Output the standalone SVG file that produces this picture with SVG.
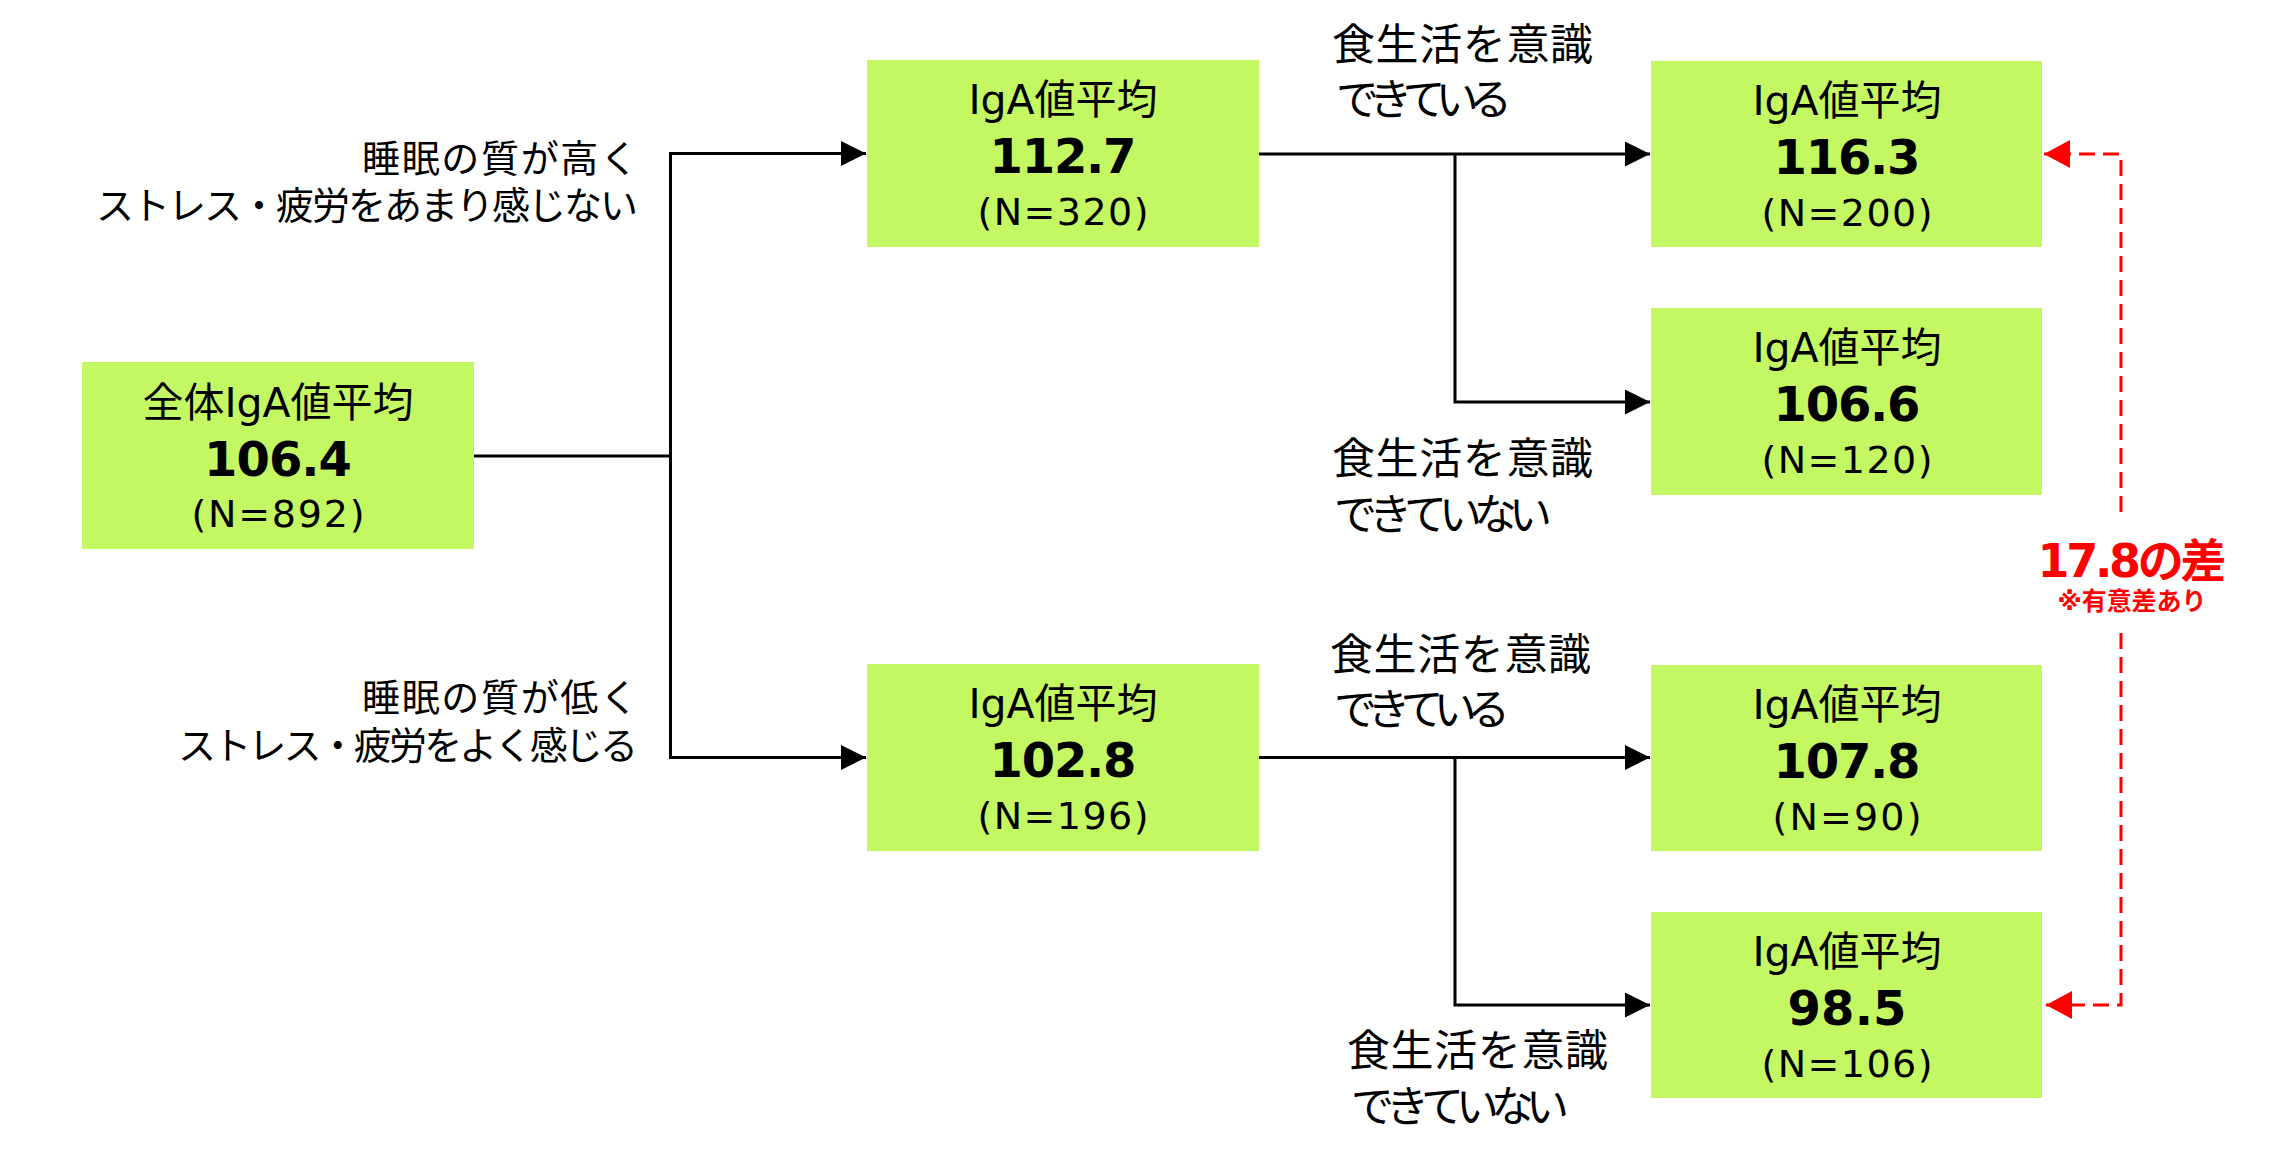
<svg xmlns="http://www.w3.org/2000/svg" width="2271" height="1159" viewBox="0 0 2271 1159">
<style>
.box{fill:#C4F862;}
.lbl{font-family:"DejaVu Sans","Noto Sans CJK JP",sans-serif;font-size:41px;fill:#000;text-anchor:middle;}
.num{font-family:"DejaVu Sans","Noto Sans CJK JP",sans-serif;font-size:48px;font-weight:bold;fill:#000;text-anchor:middle;}
.n{font-family:"DejaVu Sans","Noto Sans CJK JP",sans-serif;font-size:38px;fill:#000;text-anchor:middle;}
.cond{font-family:"Noto Sans CJK JP",sans-serif;font-size:38px;fill:#000;}
.food{font-family:"Noto Sans CJK JP",sans-serif;font-size:43px;fill:#000;}
.line{fill:none;stroke:#000;stroke-width:3;}
.red{fill:none;stroke:#FF0000;stroke-width:3;stroke-dasharray:16 8;}
.redt{font-family:"DejaVu Sans","Noto Sans CJK JP",sans-serif;font-weight:bold;fill:#FF0000;text-anchor:middle;}
</style>
<defs>
<marker id="arr" markerUnits="userSpaceOnUse" markerWidth="25" markerHeight="25" refX="25" refY="12.5" orient="auto" viewBox="0 0 25 25">
<path d="M0,0 L25,12.5 L0,25 z" fill="#000"/>
</marker>
<marker id="rarr" markerUnits="userSpaceOnUse" markerWidth="26" markerHeight="28" refX="26" refY="14" orient="auto" viewBox="0 0 26 28">
<path d="M0,0 L26,14 L0,28 z" fill="#FF0000"/>
</marker>
</defs>
<rect width="2271" height="1159" fill="#fff"/>

<g id="connectors">
<path class="line" d="M474,456 H670.5"/>
<path class="line" d="M670.5,153.5 V757.5"/>
<path class="line" d="M669,153.5 H866" marker-end="url(#arr)"/>
<path class="line" d="M669,757.5 H866" marker-end="url(#arr)"/>
<path class="line" d="M1259,154 H1650" marker-end="url(#arr)"/>
<path class="line" d="M1455,154 V402 H1650" marker-end="url(#arr)"/>
<path class="line" d="M1259,757.5 H1650" marker-end="url(#arr)"/>
<path class="line" d="M1455,757.5 V1005 H1650" marker-end="url(#arr)"/>
<path class="red" d="M2121,512 V154 H2044" marker-end="url(#rarr)"/>
<path class="red" d="M2121,633 V1005 H2046" marker-end="url(#rarr)"/>
</g>

<g id="label-high">
<text class="cond"><tspan x="362" y="172" textLength="276">睡眠の質が高く</tspan><tspan x="96" y="219" textLength="542">ストレス・疲労をあまり感じない</tspan></text>
</g>
<g id="label-low">
<text class="cond"><tspan x="362" y="711" textLength="276">睡眠の質が低く</tspan><tspan x="178" y="759" textLength="460">ストレス・疲労をよく感じる</tspan></text>
</g>
<g id="label-food1">
<text class="food"><tspan x="1332" y="60" textLength="261">食生活を意識</tspan><tspan x="1336" y="115" textLength="176">できている</tspan></text>
</g>
<g id="label-food2">
<text class="food"><tspan x="1332" y="474" textLength="261">食生活を意識</tspan><tspan x="1334" y="530" textLength="218">できていない</tspan></text>
</g>
<g id="label-food3">
<text class="food"><tspan x="1330" y="670" textLength="261">食生活を意識</tspan><tspan x="1334" y="725" textLength="176">できている</tspan></text>
</g>
<g id="label-food4">
<text class="food"><tspan x="1347" y="1066" textLength="261">食生活を意識</tspan><tspan x="1351" y="1122" textLength="218">できていない</tspan></text>
</g>

<g id="node-all">
<rect class="box" x="82" y="362" width="392" height="187"/>
<text class="lbl" x="278" y="417">全体IgA値平均</text>
<text class="num" x="278" y="476" textLength="148">106.4</text>
<text class="n" x="278" y="527" textLength="173">(N=892)</text>
</g>
<g id="node-high">
<rect class="box" x="867" y="60" width="392" height="187"/>
<text class="lbl" x="1063" y="114">IgA値平均</text>
<text class="num" x="1063" y="173" textLength="147">112.7</text>
<text class="n" x="1063" y="225" textLength="171">(N=320)</text>
</g>
<g id="node-low">
<rect class="box" x="867" y="664" width="392" height="187"/>
<text class="lbl" x="1063" y="718">IgA値平均</text>
<text class="num" x="1063" y="777" textLength="147">102.8</text>
<text class="n" x="1063" y="829" textLength="171">(N=196)</text>
</g>
<g id="node-high-food">
<rect class="box" x="1651" y="61" width="391" height="186"/>
<text class="lbl" x="1847" y="115">IgA値平均</text>
<text class="num" x="1847" y="174" textLength="147">116.3</text>
<text class="n" x="1847" y="226" textLength="171">(N=200)</text>
</g>
<g id="node-high-nofood">
<rect class="box" x="1651" y="308" width="391" height="187"/>
<text class="lbl" x="1847" y="362">IgA値平均</text>
<text class="num" x="1847" y="421" textLength="147">106.6</text>
<text class="n" x="1847" y="473" textLength="171">(N=120)</text>
</g>
<g id="node-low-food">
<rect class="box" x="1651" y="665" width="391" height="186"/>
<text class="lbl" x="1847" y="719">IgA値平均</text>
<text class="num" x="1847" y="778" textLength="147">107.8</text>
<text class="n" x="1847" y="830" textLength="149">(N=90)</text>
</g>
<g id="node-low-nofood">
<rect class="box" x="1651" y="912" width="391" height="186"/>
<text class="lbl" x="1847" y="966">IgA値平均</text>
<text class="num" x="1847" y="1025" textLength="119">98.5</text>
<text class="n" x="1847" y="1077" textLength="171">(N=106)</text>
</g>

<g id="diff-note">
<text class="redt" x="2132" y="577" font-size="46" textLength="189">17.8の差</text>
<text class="redt" x="2132" y="610" font-size="25" textLength="149">※有意差あり</text>
</g>
</svg>
